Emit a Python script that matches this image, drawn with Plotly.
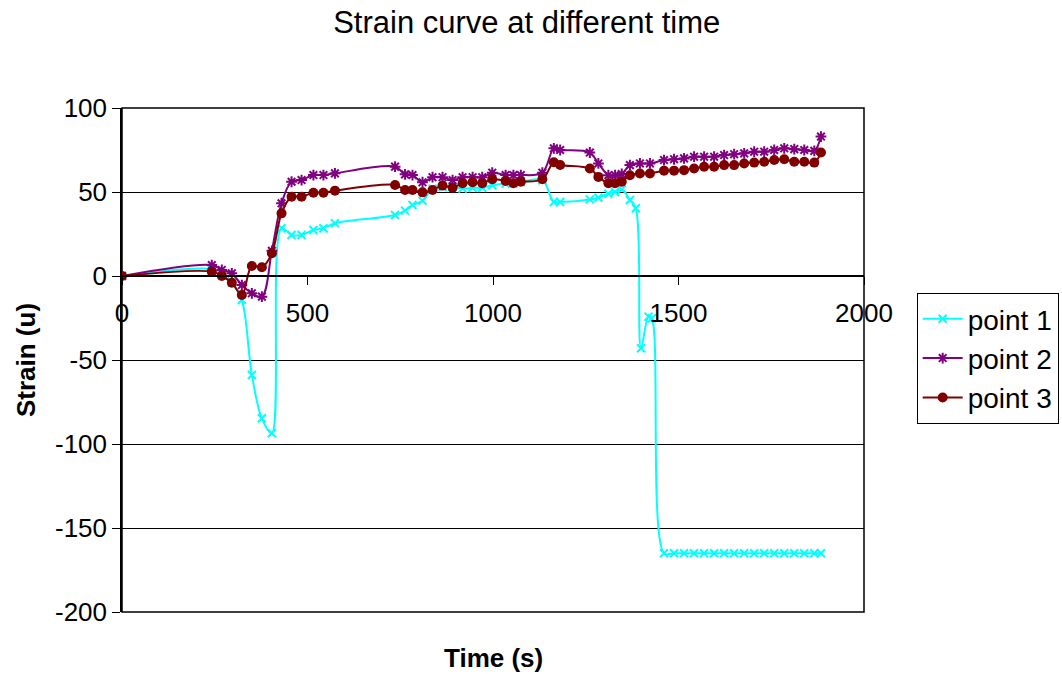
import plotly.graph_objects as go

# Sample times (s) shared by point 2 and point 3
time_23 = [0, 242, 269, 296, 323, 350, 377, 404, 430, 457, 484, 516, 543, 574,
           736, 763, 783, 810, 837, 864, 891, 918, 945, 971, 998, 1034, 1055,
           1075, 1133, 1164, 1181, 1261, 1284, 1311, 1329, 1347, 1369, 1396,
           1423, 1461, 1488, 1515, 1542, 1569, 1596, 1623, 1650, 1677, 1704,
           1731, 1758, 1785, 1812, 1839, 1866, 1884]

point2 = [0, 6.5, 3.6, 1.6, -5.4, -10.3, -12.3, 15, 43.3, 56.1, 57.1, 60.1,
          60.1, 61.1, 65.1, 60.5, 60.1, 55.8, 58.8, 58.8, 57.1, 58.8, 58.8,
          58.8, 61.5, 60.1, 60.1, 60.1, 61.5, 76, 75, 73.5, 67, 60, 60, 60.7,
          66, 67, 67, 69, 69.5, 70, 71, 71, 71, 72, 72.5, 73, 74, 74, 75, 76,
          75.5, 75, 74.5, 83]

point3 = [0, 2.6, 0, -4, -11.3, 6, 5.2, 13.5, 37.3, 47.2, 47.2, 49.6, 49.6,
          50.8, 54.2, 51.2, 51.2, 49.8, 51.2, 53.8, 52.6, 55.2, 55.8, 55.2,
          57.6, 56.5, 55.2, 56.1, 57.6, 67.7, 66.1, 64, 59, 55.2, 55.2, 56.1,
          60, 61, 61, 62.7, 62.7, 63, 64, 65, 65, 66, 66, 67, 67.5, 68, 69,
          69.5, 68, 68, 67.5, 73.5]

# Sample times (s) for point 1
time_1 = [0, 242, 269, 296, 323, 350, 377, 404, 430, 457, 484, 516, 543, 574,
          736, 763, 783, 810, 837, 864, 891, 918, 945, 971, 998, 1034, 1055,
          1075, 1133, 1164, 1181, 1261, 1284, 1311, 1329, 1347, 1369, 1385,
          1399, 1419, 1428, 1461, 1488, 1515, 1542, 1569, 1596, 1623, 1650,
          1677, 1704, 1731, 1758, 1785, 1812, 1839, 1866, 1884]

point1 = [0, 4, 1, -4, -14.3, -58.9, -84.7, -93.6, 28.4, 24.4, 24.4, 27.4,
          28.4, 31.4, 36.3, 38.9, 42.3, 44.8, 52, 53, 53, 52, 52.5, 52.5, 54,
          55, 55, 56, 57, 44, 44, 45.6, 46.6, 49, 50, 51.6, 45.2, 40.3, -43,
          -24.2, -25.2, -165, -165, -165, -165, -165, -165, -165, -165, -165,
          -165, -165, -165, -165, -165, -165, -165, -165]

y_ticks = [-200, -150, -100, -50, 0, 50, 100]
y_labels = ["-200", "-150", "-100", "-50", "0", "50", "100"]
x_ticks = [0, 500, 1000, 1500, 2000]
x_labels = ["0", "500", "1000", "1500", "2000"]

FONT = "Liberation Sans, Arial, sans-serif"

fig = go.Figure()

fig.add_trace(go.Scatter(
    x=time_1, y=point1, name="point 1", mode="lines+markers",
    line=dict(color="#00FFFF", width=2, shape="spline", smoothing=1),
    marker=dict(symbol="x-thin-open", size=8, color="#00FFFF",
                line=dict(color="#00FFFF", width=2)),
))
fig.add_trace(go.Scatter(
    x=time_23, y=point2, name="point 2", mode="lines+markers",
    line=dict(color="#800080", width=2, shape="spline", smoothing=1),
    marker=dict(symbol="asterisk-open", size=9, color="#800080",
                line=dict(color="#800080", width=2)),
))
fig.add_trace(go.Scatter(
    x=time_23, y=point3, name="point 3", mode="lines+markers",
    line=dict(color="#800000", width=2, shape="spline", smoothing=1),
    marker=dict(symbol="circle", size=10, color="#800000"),
))

fig.update_layout(
    width=1062, height=674,
    margin=dict(l=122, r=198, t=108, b=62, autoexpand=False),
    paper_bgcolor="white", plot_bgcolor="white",
    font=dict(family=FONT, color="black", size=26),
    title=dict(text="Strain curve at different time", x=0.496, xref="container",
               xanchor="center", y=1 - 22 / 674, yref="container", yanchor="middle",
               font=dict(size=31, family=FONT, color="black")),
    showlegend=True,
    legend=dict(x=1.071, y=0.633, xanchor="left", yanchor="top",
                bgcolor="white", bordercolor="black", borderwidth=1,
                font=dict(size=28, family=FONT, color="black"),
                tracegroupgap=0, itemwidth=40),
    xaxis=dict(range=[0, 2000], tickvals=x_ticks, ticktext=x_labels,
               ticks="outside", ticklen=8, ticklabelstandoff=6,
               tickcolor="black", showline=True, linecolor="black", linewidth=1.5,
               showgrid=False, zeroline=False, anchor="free", position=200 / 300,
               tickfont=dict(size=26, family=FONT, color="black")),
    yaxis=dict(range=[-200, 100], tickvals=y_ticks, ticktext=y_labels,
               ticks="outside", ticklen=8,
               tickcolor="black", showline=True, linecolor="black", linewidth=1.5,
               showgrid=True, gridcolor="black", gridwidth=1, zeroline=False,
               domain=[0, 1],
               tickfont=dict(size=26, family=FONT, color="black"),
               title=dict(text="<b>Strain (u)</b>", standoff=12,
                          font=dict(size=26, family=FONT, color="black"))),
    shapes=[dict(type="rect", xref="paper", yref="paper", x0=0, x1=1, y0=0, y1=1,
                 line=dict(color="black", width=1.5), fillcolor="rgba(0,0,0,0)",
                 layer="below")],
    annotations=[dict(text="<b>Time (s)</b>", xref="paper", yref="paper",
                      x=0.5, y=(612 - 658) / 504, xanchor="center", yanchor="middle",
                      showarrow=False, font=dict(size=26, family=FONT, color="black"))],
)

fig.write_html("out.html")
